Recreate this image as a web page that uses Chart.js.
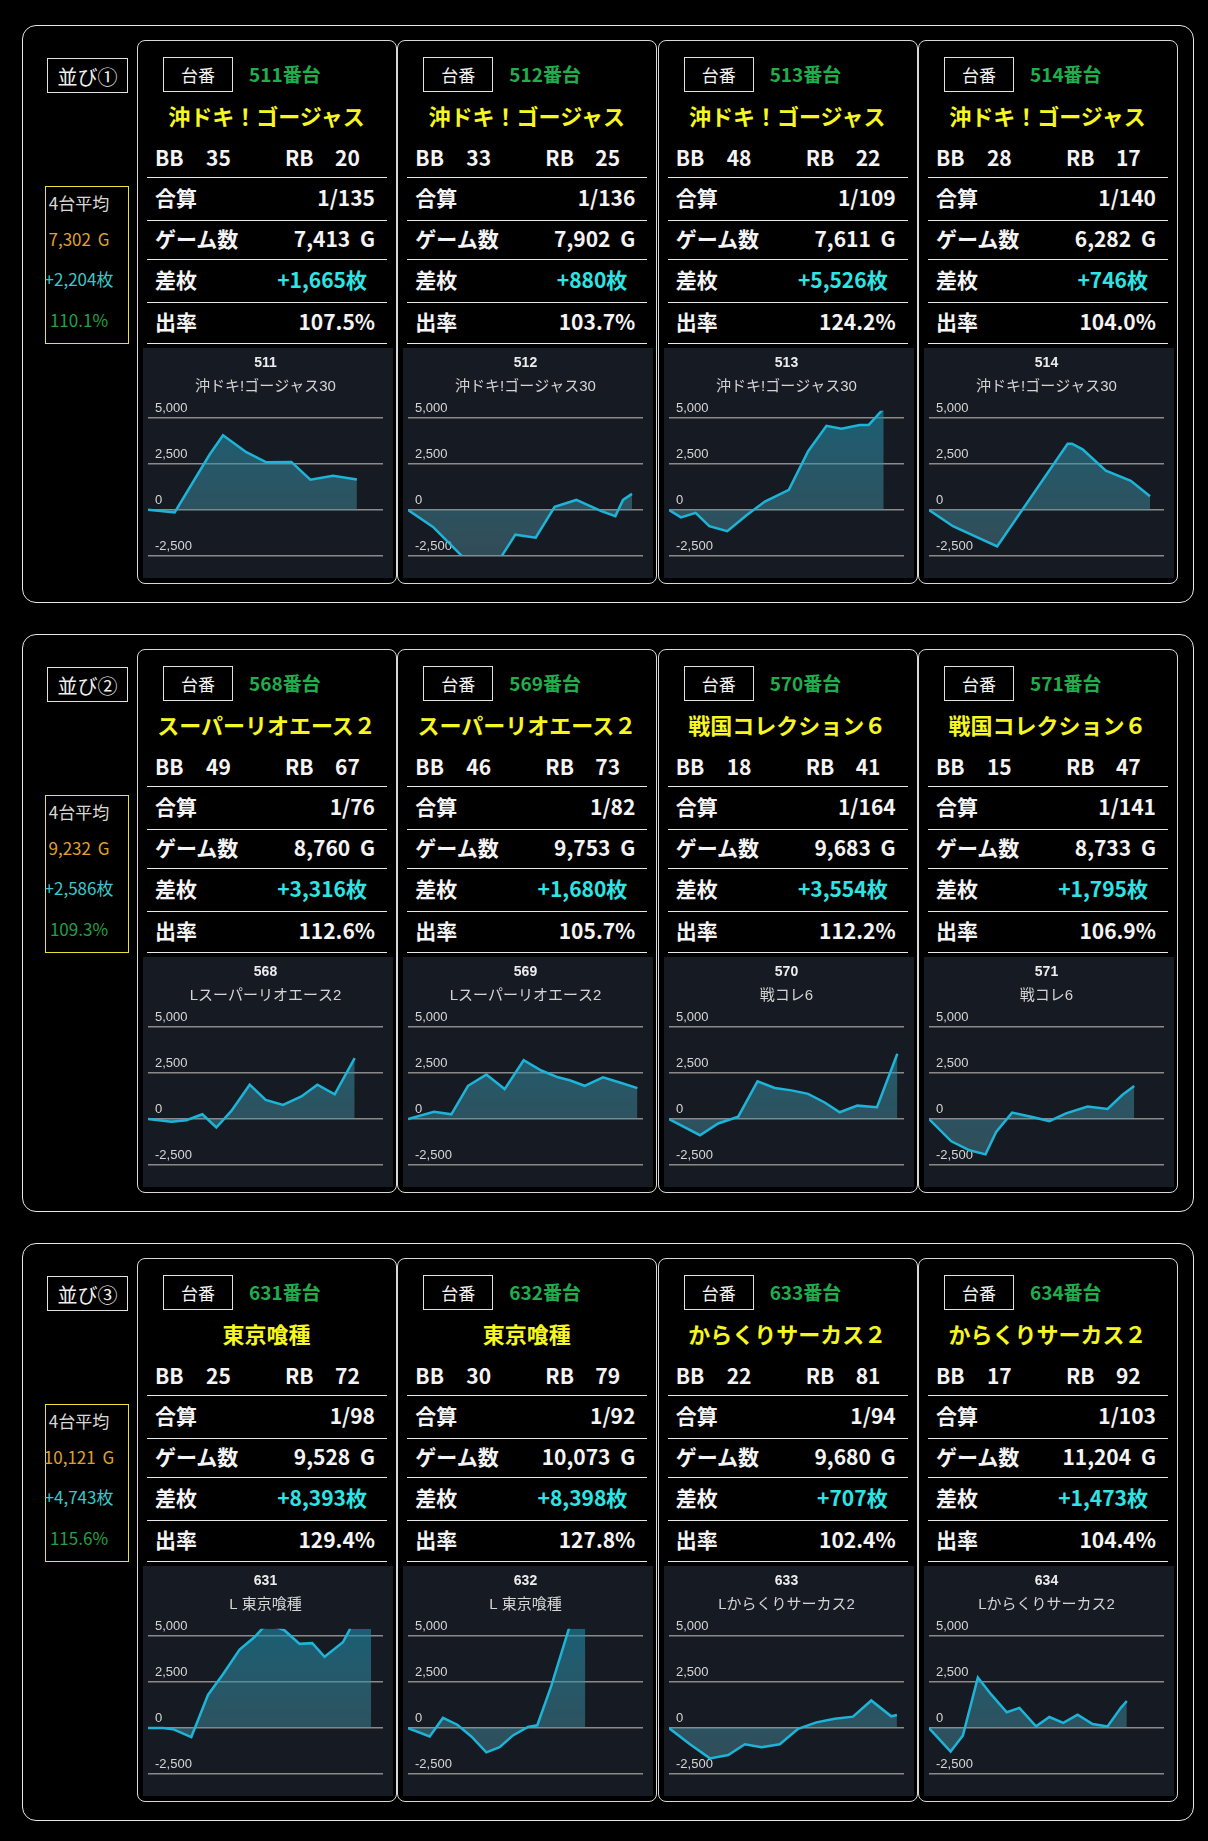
<!DOCTYPE html>
<html lang="ja">
<head>
<meta charset="utf-8">
<title>並び データ</title>
<script src="https://cdn.jsdelivr.net/npm/chart.js@4/dist/chart.umd.min.js"></script>
<style>
  body { margin: 0; background: #000; font-family: 'Noto Sans CJK JP', 'Noto Sans', sans-serif; }
  #page { position: relative; width: 1208px; height: 1841px; }
  .group { position: absolute; left: 22px; width: 1172px; height: 578px; border: 1px solid #e6e6e6; border-radius: 14px; box-sizing: border-box; }
  .lineup { position: absolute; left: 24px; top: 32px; width: 81px; height: 35px; border: 1px solid #e0e0e0; box-sizing: border-box; color: #f0f0f0; font-size: 20px; line-height: 35px; text-align: center; }
  .avg { position: absolute; left: 22px; top: 160px; width: 84px; height: 158px; border: 1px solid #e6e23a; box-sizing: border-box; }
  .avg div { position: absolute; left: -13px; width: 92px; text-align: center; font-size: 17px; line-height: 20px; white-space: nowrap; word-spacing: 3px; }
  .card { position: absolute; top: 14px; width: 260px; height: 544px; border: 1px solid #d8d8d8; border-radius: 8px; box-sizing: border-box; color: #f4f4f4; }
  .daiban { position: absolute; left: 25px; top: 16px; width: 70px; height: 35px; border: 1px solid #e0e0e0; box-sizing: border-box; font-size: 17px; line-height: 33px; text-align: center; }
  .no { position: absolute; left: 111px; top: 21px; line-height: 24px; font-size: 19px; font-weight: bold; color: #1fae4d; }
  .name { position: absolute; left: 0; width: 257px; top: 60px; line-height: 28px; text-align: center; font-size: 22px; font-weight: bold; color: #f6f620; white-space: nowrap; }
  .bb { position: absolute; top: 103px; line-height: 26px; font-size: 21px; font-weight: bold; }
  .sep { position: absolute; left: 9px; width: 240px; height: 1px; background: #e8e8e8; }
  .lbl { position: absolute; left: 17px; line-height: 26px; font-size: 21px; font-weight: bold; }
  .val { position: absolute; right: 21px; line-height: 26px; font-size: 21px; font-weight: bold; white-space: nowrap; word-spacing: 5px; }
  .val.diff { right: 29px; color: #2ee5e5; }
  canvas.graph { position: absolute; left: 5px; top: 307px; background: #161a22; }
</style>
</head>
<body>
<div id="page"></div>
<script>
// ---- lineup summary ----
const groupLabels = ['並び①', '並び②', '並び③'];
const avgGames = ['7,302 G', '9,232 G', '10,121 G'];
const avgDiff = ['+2,204枚', '+2,586枚', '+4,743枚'];
const avgRate = ['110.1%', '109.3%', '115.6%'];

// ---- machine cards ----
const machineNo = [511, 512, 513, 514, 568, 569, 570, 571, 631, 632, 633, 634];
const machineName = ['沖ドキ！ゴージャス', '沖ドキ！ゴージャス', '沖ドキ！ゴージャス', '沖ドキ！ゴージャス',
  'スーパーリオエース２', 'スーパーリオエース２', '戦国コレクション６', '戦国コレクション６',
  '東京喰種', '東京喰種', 'からくりサーカス２', 'からくりサーカス２'];
const graphSubtitle = ['沖ドキ!ゴージャス30', '沖ドキ!ゴージャス30', '沖ドキ!ゴージャス30', '沖ドキ!ゴージャス30',
  'Lスーパーリオエース2', 'Lスーパーリオエース2', '戦コレ6', '戦コレ6',
  'L 東京喰種', 'L 東京喰種', 'Lからくりサーカス2', 'Lからくりサーカス2'];
const bbCount = [35, 33, 48, 28, 49, 46, 18, 15, 25, 30, 22, 17];
const rbCount = [20, 25, 22, 17, 67, 73, 41, 47, 72, 79, 81, 92];
const combined = ['1/135', '1/136', '1/109', '1/140', '1/76', '1/82', '1/164', '1/141', '1/98', '1/92', '1/94', '1/103'];
const gameCount = ['7,413 G', '7,902 G', '7,611 G', '6,282 G', '8,760 G', '9,753 G', '9,683 G', '8,733 G',
  '9,528 G', '10,073 G', '9,680 G', '11,204 G'];
const diffCoins = ['+1,665枚', '+880枚', '+5,526枚', '+746枚', '+3,316枚', '+1,680枚', '+3,554枚', '+1,795枚',
  '+8,393枚', '+8,398枚', '+707枚', '+1,473枚'];
const payout = ['107.5%', '103.7%', '124.2%', '104.0%', '112.6%', '105.7%', '112.2%', '106.9%',
  '129.4%', '127.8%', '102.4%', '104.4%'];

// ---- slump graphs: game position and coin difference ----
const games511 = [0, 946, 2188, 2662, 3490, 4200, 5087, 5761, 6566, 7413];
const diff511 = [20, -130, 3020, 4070, 3150, 2600, 2620, 1650, 1870, 1665];
const games512 = [0, 882, 2352, 3058, 3787, 4504, 5174, 5939, 6821, 7315, 7585, 7902];
const diff512 = [0, -920, -3200, -3100, -1340, -1500, 180, 550, -60, -330, 550, 880];
const games513 = [0, 425, 944, 1428, 2065, 2749, 3398, 4248, 4932, 5581, 6112, 6761, 7080, 7611];
const diff513 = [0, -400, -150, -880, -1150, -280, 460, 1100, 3200, 4580, 4430, 4630, 4630, 5526];
const games514 = [0, 680, 1937, 3941, 4064, 4366, 5027, 5736, 6282];
const diff514 = [0, -880, -1980, 3610, 3610, 3300, 2140, 1590, 746];
const games568 = [0, 989, 1625, 2303, 2897, 3533, 4310, 4988, 5723, 6500, 7178, 7913, 8760];
const diff568 = [0, -150, -60, 260, -460, 440, 1870, 1040, 770, 1230, 1870, 1350, 3316];
const games569 = [0, 1105, 1842, 2551, 3330, 4109, 4917, 5668, 6377, 6872, 7510, 8290, 9069, 9753];
const diff569 = [0, 400, 260, 1810, 2420, 1630, 3200, 2640, 2270, 2110, 1810, 2270, 1960, 1680];
const games570 = [0, 1312, 2088, 2935, 3753, 4487, 5193, 5898, 6603, 7238, 7986, 8819, 9683];
const diff570 = [0, -880, -240, 130, 2050, 1690, 1560, 1370, 900, 370, 730, 640, 3554];
const games571 = [0, 948, 1726, 2405, 2858, 3537, 4344, 5122, 5830, 6750, 7598, 8235, 8733];
const diff571 = [0, -1210, -1700, -1920, -700, 350, 130, -110, 310, 680, 550, 1320, 1795];
const games631 = [0, 640, 1066, 1848, 2560, 3200, 3910, 4550, 4906, 5190, 5546, 5830, 6470, 7010, 7537, 8319, 8603, 8888, 9528];
const diff631 = [0, 0, -60, -490, 1800, 2930, 4270, 4950, 5450, 5600, 5450, 5310, 4580, 4620, 3880, 4670, 5350, 7000, 8393];
const games632 = [0, 1230, 1988, 2802, 3597, 4449, 5206, 5963, 6815, 7345, 8140, 9124, 9465, 10073];
const diff632 = [0, -460, 550, 180, -460, -1320, -1040, -400, 60, 150, 2290, 5350, 6500, 8398];
const games633 = [0, 890, 1738, 2515, 3222, 3928, 4705, 5482, 6259, 7036, 7813, 8590, 9438, 9680];
const diff633 = [0, -880, -1650, -1470, -880, -1040, -880, -40, 310, 510, 620, 1500, 640, 707];
const games634 = [0, 1224, 1921, 2768, 3521, 4406, 5122, 6063, 6817, 7607, 8417, 9264, 10112, 10865, 11204];
const diff634 = [0, -1280, -400, 2750, 1830, 860, 1100, 90, 600, 280, 730, 220, 90, 1100, 1473];

const graphGames = [games511, games512, games513, games514, games568, games569, games570, games571,
  games631, games632, games633, games634];
const graphDiff = [diff511, diff512, diff513, diff514, diff568, diff569, diff570, diff571,
  diff631, diff632, diff633, diff634];
const graphMaxGames = [8340, 8290, 8330, 6680, 9960, 9990, 9965, 10000, 10030, 13350, 9980, 13310];
const yTicks = [-2500, 0, 2500, 5000];

Chart.defaults.font.family = "'Liberation Sans', 'Noto Sans CJK JP', sans-serif";

const page = document.getElementById('page');

function el(tag, cls, text, parent) {
  const e = document.createElement(tag);
  if (cls) e.className = cls;
  if (text !== undefined) e.textContent = text;
  parent.appendChild(e);
  return e;
}

groupLabels.forEach((label, g) => {
  const group = el('div', 'group', undefined, page);
  group.style.top = (25 + g * 609) + 'px';
  el('div', 'lineup', label, group);

  const avg = el('div', 'avg', undefined, group);
  const lines = [['4台平均', '#d8d8d8'], [avgGames[g], '#e0a030'], [avgDiff[g], '#38c8cc'], [avgRate[g], '#22a046']];
  const tops = [6, 42, 82, 123];
  lines.forEach(([t, c], k) => {
    const d = el('div', '', t, avg);
    d.style.top = tops[k] + 'px';
    d.style.color = c;
  });

  for (let c = 0; c < 4; c++) {
    const i = g * 4 + c;
    const card = el('div', 'card', undefined, group);
    card.style.left = (114 + c * 260.33) + 'px';
    el('div', 'daiban', '台番', card);
    el('div', 'no', machineNo[i] + '番台', card);
    el('div', 'name', machineName[i], card);

    [['BB', 17], [bbCount[i], 68], ['RB', 147], [rbCount[i], 197]].forEach(([t, x]) => {
      el('div', 'bb', String(t), card).style.left = x + 'px';
    });
    [136, 179, 218, 261, 302].forEach(y => { el('div', 'sep', undefined, card).style.top = y + 'px'; });

    const rows = [['合算', combined[i]], ['ゲーム数', gameCount[i]], ['差枚', diffCoins[i]], ['出率', payout[i]]];
    const rowTops = [143, 184, 225, 267];
    rows.forEach(([l, v], k) => {
      el('div', 'lbl', l, card).style.top = rowTops[k] + 'px';
      const ve = el('div', k === 2 ? 'val diff' : 'val', v, card);
      ve.style.top = rowTops[k] + 'px';
    });

    const canvas = el('canvas', 'graph', undefined, card);
    canvas.width = 250;
    canvas.height = 230;
    drawGraph(canvas, i);
  }
});

function drawGraph(canvas, i) {
  const points = graphGames[i].map((x, k) => ({ x, y: graphDiff[i][k] }));
  let gradient = null;

  new Chart(canvas, {
    type: 'line',
    data: {
      datasets: [{
        data: points,
        borderColor: '#1db4d8',
        borderWidth: 2.5,
        pointRadius: 0,
        tension: 0,
        fill: 'origin',
        backgroundColor: ctx => {
          const area = ctx.chart.chartArea;
          if (!area) return 'rgba(40,110,130,0.5)';
          if (!gradient) {
            gradient = ctx.chart.ctx.createLinearGradient(0, area.top, 0, area.bottom);
            gradient.addColorStop(0, 'rgba(30,140,170,0.6)');
            gradient.addColorStop(1, 'rgba(90,150,165,0.4)');
          }
          return gradient;
        }
      }]
    },
    options: {
      responsive: false,
      animation: false,
      events: [],
      layout: { padding: { left: 5, right: 10, top: 0, bottom: 22 } },
      plugins: {
        legend: { display: false },
        tooltip: { enabled: false },
        title: {
          display: true,
          text: String(machineNo[i]),
          color: '#ececec',
          font: { size: 14, weight: 'bold' },
          padding: { top: 7, bottom: 6 }
        },
        subtitle: {
          display: true,
          text: graphSubtitle[i],
          color: '#d4d4d4',
          font: { size: 15 },
          padding: { top: 0, bottom: 15 }
        }
      },
      scales: {
        x: { type: 'linear', display: false, min: 0, max: graphMaxGames[i] },
        y: {
          min: yTicks[0],
          max: 5400,
          afterFit: s => { s.width = 0; s.paddingTop = 0; s.paddingBottom = 0; },
          afterBuildTicks: s => { s.ticks = yTicks.map(v => ({ value: v })); },
          border: { display: false },
          grid: { color: '#8a8a8a', lineWidth: 1.5, drawTicks: false },
          ticks: {
            mirror: true,
            padding: 7,
            labelOffset: -10,
            color: '#d6d6d6',
            font: { size: 13 },
            callback: v => v.toLocaleString('en-US')
          }
        }
      }
    }
  });
}
</script>
</body>
</html>
